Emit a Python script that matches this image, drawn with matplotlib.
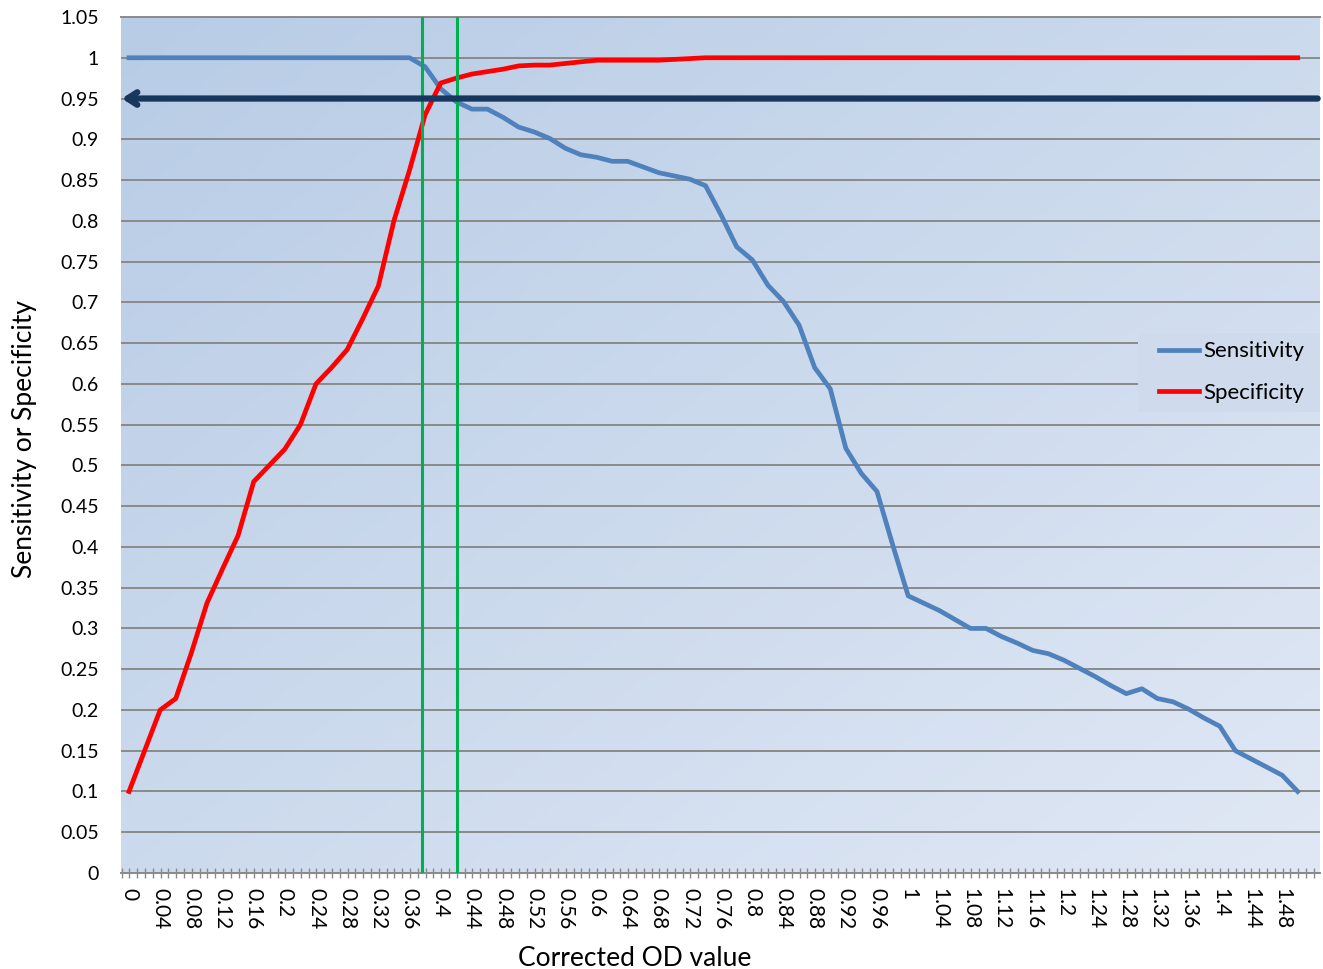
import numpy as np
import matplotlib
matplotlib.use("Agg")
import matplotlib.pyplot as plt
from matplotlib.patches import Rectangle

plt.rcParams['font.family'] = ['Lato', 'DejaVu Sans']

# corrected OD cut-off values (categories)
od = [0.00, 0.02, 0.04, 0.06, 0.08, 0.10, 0.12, 0.14, 0.16, 0.18,
      0.20, 0.22, 0.24, 0.26, 0.28, 0.30, 0.32, 0.34, 0.36, 0.38,
      0.40, 0.42, 0.44, 0.46, 0.48, 0.50, 0.52, 0.54, 0.56, 0.58,
      0.60, 0.62, 0.64, 0.66, 0.68, 0.70, 0.72, 0.74, 0.76, 0.78,
      0.80, 0.82, 0.84, 0.86, 0.88, 0.90, 0.92, 0.94, 0.96, 0.98,
      1.00, 1.02, 1.04, 1.06, 1.08, 1.10, 1.12, 1.14, 1.16, 1.18,
      1.20, 1.22, 1.24, 1.26, 1.28, 1.30, 1.32, 1.34, 1.36, 1.38,
      1.40, 1.42, 1.44, 1.46, 1.48, 1.50]

sensitivity = [1.0, 1.0, 1.0, 1.0, 1.0, 1.0, 1.0, 1.0, 1.0, 1.0,
               1.0, 1.0, 1.0, 1.0, 1.0, 1.0, 1.0, 1.0, 1.0, 0.989,
               0.962, 0.946, 0.937, 0.937, 0.927, 0.915, 0.909, 0.901, 0.889, 0.881,
               0.878, 0.873, 0.873, 0.866, 0.859, 0.855, 0.851, 0.843, 0.807, 0.768,
               0.752, 0.721, 0.701, 0.672, 0.620, 0.594, 0.521, 0.490, 0.468, 0.403,
               0.340, 0.331, 0.322, 0.311, 0.300, 0.300, 0.290, 0.282, 0.273, 0.269,
               0.261, 0.251, 0.241, 0.230, 0.220, 0.226, 0.214, 0.210, 0.201, 0.190,
               0.180, 0.150, 0.140, 0.130, 0.120, 0.100]

specificity = [0.100, 0.150, 0.200, 0.214, 0.270, 0.331, 0.373, 0.414, 0.480, 0.500,
               0.520, 0.550, 0.600, 0.620, 0.642, 0.680, 0.720, 0.800, 0.862, 0.930,
               0.969, 0.975, 0.980, 0.983, 0.986, 0.990, 0.991, 0.991, 0.993, 0.995,
               0.997, 0.997, 0.997, 0.997, 0.997, 0.998, 0.999, 1.0, 1.0, 1.0,
               1.0, 1.0, 1.0, 1.0, 1.0, 1.0, 1.0, 1.0, 1.0, 1.0,
               1.0, 1.0, 1.0, 1.0, 1.0, 1.0, 1.0, 1.0, 1.0, 1.0,
               1.0, 1.0, 1.0, 1.0, 1.0, 1.0, 1.0, 1.0, 1.0, 1.0,
               1.0, 1.0, 1.0, 1.0, 1.0, 1.0]

cutoffs = [0.376, 0.421]   # green marker lines
target = 0.95              # arrow level

fig = plt.figure(figsize=(13.23, 9.69), dpi=100)
ax = fig.add_axes([121 / 1323, 1 - 873 / 969, 1199 / 1323, 856 / 969])

xmin, xmax = -0.0103, 1.5286
ax.set_xlim(xmin, xmax)
ax.set_ylim(0, 1.05)

# gradient plot area background: darker top-left, lighter bottom-right
u = np.linspace(0, 1, 300)
v = np.linspace(0, 1, 220)
U, V = np.meshgrid(u, v)
t = (U + V) / 2
c0 = np.array([0.72, 0.80, 0.90])
c1 = np.array([0.88, 0.91, 0.96])
img = c0[None, None, :] * (1 - t[..., None]) + c1[None, None, :] * t[..., None]
ax.imshow(img, extent=[0, 1, 0, 1], transform=ax.transAxes, aspect='auto', zorder=0)

ax.set_axisbelow(True)
yt = np.round(np.arange(0, 1.051, 0.05), 2)
ax.set_yticks(yt)
ax.set_yticklabels([f"{y:g}" for y in yt], fontsize=14)
ax.yaxis.grid(True, color='#8a8a8a', lw=1.4)
ax.tick_params(axis='y', length=0, pad=16)

ax.set_xticks(od[::2])
ax.set_xticklabels([f"{x:g}" for x in od[::2]], rotation=-90, fontsize=15)
ax.set_xticks(np.arange(-0.0094, 1.53, 0.01), minor=True)
ax.tick_params(axis='x', which='major', length=0, pad=11)
ax.tick_params(axis='x', which='minor', direction='inout', length=7, color='#8a8a8a', width=1)

for side in ['left', 'right']:
    ax.spines[side].set_visible(False)
for side in ['top', 'bottom']:
    ax.spines[side].set_color('#8a8a8a')
    ax.spines[side].set_linewidth(1.4)

ax.plot(od, sensitivity, color='#4F81BD', lw=3.4, label='Sensitivity', zorder=3)
ax.plot(od, specificity, color='#FF0000', lw=3.4, label='Specificity', zorder=3)

for c in cutoffs:
    ax.axvline(c, color='#00B050', lw=2.2, zorder=4)

ax.annotate('', xy=(xmin + 0.001, target), xytext=(xmax - 0.003, target),
            arrowprops=dict(arrowstyle='->,head_length=0.7,head_width=0.45',
                            lw=4.5, color='#17375E', shrinkA=0, shrinkB=0),
            zorder=5)

ax.set_xlabel("Corrected OD value", fontsize=19)
ax.xaxis.set_label_coords((635 - 121) / 1199, -0.085)
ax.set_ylabel("Sensitivity or Specificity", fontsize=19)
ax.yaxis.set_label_coords((37 - 121) / 1199, (873 - 439) / 856)

# legend box
ax.add_patch(Rectangle(((1138 - 121) / 1199, (873 - 412) / 856), 182 / 1199, 79 / 856,
                       transform=ax.transAxes, facecolor='#cfdbec', edgecolor='none',
                       zorder=6))
leg = ax.legend(loc='center left', bbox_to_anchor=((1159 - 121) / 1199, (873 - 372) / 856),
                fontsize=16, frameon=False, handlelength=1.8, handletextpad=0.2,
                labelspacing=0.95, borderpad=0, borderaxespad=0)
leg.set_zorder(7)

fig.savefig('out.png', dpi=100)
